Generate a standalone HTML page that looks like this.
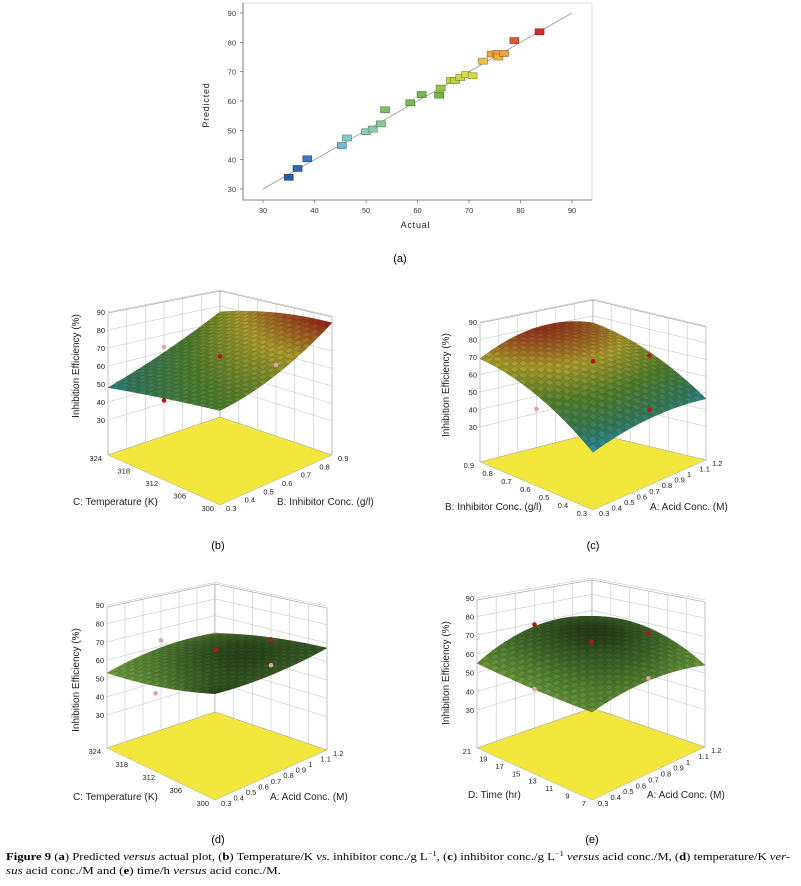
<!DOCTYPE html>
<html><head><meta charset="utf-8"><style>
body{margin:0;background:#fff}
svg{display:block;font-family:"Liberation Sans",Arial,sans-serif}
</style></head><body>
<svg id="fig" width="801" height="886" viewBox="0 0 801 886" xmlns="http://www.w3.org/2000/svg">
<g id="scatter"></g>
<g id="p3d"></g>
<text x="400" y="262" font-size="11" text-anchor="middle">(a)</text>
<text x="218" y="549" font-size="11" text-anchor="middle">(b)</text>
<text x="593" y="549" font-size="11" text-anchor="middle">(c)</text>
<text x="218" y="843" font-size="11" text-anchor="middle">(d)</text>
<text x="592" y="843" font-size="11" text-anchor="middle">(e)</text>
<g font-family="'Liberation Serif',serif" font-size="10.5">
<text x="6" y="860" textLength="784" lengthAdjust="spacingAndGlyphs"><tspan font-weight="bold">Figure 9</tspan> (<tspan font-weight="bold">a</tspan>) Predicted <tspan font-style="italic">versus</tspan> actual plot, (<tspan font-weight="bold">b</tspan>) Temperature/K <tspan font-style="italic">vs.</tspan> inhibitor conc./g L<tspan font-size="7" dy="-4">−1</tspan><tspan dy="4">, (</tspan><tspan font-weight="bold">c</tspan>) inhibitor conc./g L<tspan font-size="7" dy="-4">−1</tspan><tspan dy="4"> </tspan><tspan font-style="italic">versus</tspan> acid conc./M, (<tspan font-weight="bold">d</tspan>) temperature/K <tspan font-style="italic">ver-</tspan></text>
<text x="6" y="874" textLength="275" lengthAdjust="spacingAndGlyphs"><tspan font-style="italic">sus</tspan> acid conc./M and (<tspan font-weight="bold">e</tspan>) time/h <tspan font-style="italic">versus</tspan> acid conc./M.</text>
</g>
</svg>
<script>
const NS="http://www.w3.org/2000/svg";
// ---- scatter data ----
const actualVals=[35,36.7,38.6,45.3,46.3,50,51.3,52.9,53.7,58.6,60.8,64.2,64.5,66.5,67.3,68.3,69.4,70.7,72.7,74.4,75.5,75.7,76.8,78.8,83.7];
const predictedVals=[34,37,40.3,44.8,47.4,49.5,50.4,52.2,57,59.4,62.2,62,64.4,67,67,68,69,68.6,73.6,76,76.2,75,76.2,80.6,83.6];
const xTicks=[30,40,50,60,70,80,90];
const yTicks=[30,40,50,60,70,80,90];
// ---- surface data (z grid at u,v in {0,.5,1}; rows = v) ----
const zGridB=[[69,79,84],[57,67,69],[48,56,63]];
const zGridC=[[73,64,45],[78.5,69,48],[69,62,43]];
const zGridD=[[55,63,67.7],[57,68,66.6],[53,59.5,70]];
const zGridE=[[58.6,63,53.5],[64,67,59.4],[55,55,56.7]];
const dotsB=[[0.5,0.5,67,0],[0.1,0.6,35,0],[0,0.5,60,1],[0.5,0,50,1]];
const dotsC=[[0.5,0.5,70,0],[0.5,0,62,0],[1,0.5,53,0],[0,0.5,32,1]];
const dotsD=[[0.5,0.5,68,0],[0.5,0,62,0],[1,0.5,72,1],[0,0.5,61,1],[0,0.55,33,1]];
const dotsE=[[0.5,0.5,68,0],[0,0.5,65,0],[0.5,0,60,0],[0,0.5,30.5,1],[0.5,0,36,1]];
const zTicks=[30,40,50,60,70,80,90];
const ticksTemp=["324","318","312","306","300"];
const ticksInhLeft=["0.9","0.8","0.7","0.6","0.5","0.4","0.3"];
const ticksInhRight=["0.3","0.4","0.5","0.6","0.7","0.8","0.9"];
const ticksAcid=["0.3","0.4","0.5","0.6","0.7","0.8","0.9","1","1.1","1.2"];
const ticksTime=["21","19","17","15","13","11","9","7"];

function el(tag,attrs,parent){const e=document.createElementNS(NS,tag);for(const k in attrs)e.setAttribute(k,attrs[k]);parent.appendChild(e);return e;}

// ---- scatter ----
(function(){
 const g=document.getElementById('scatter');
 const x0=243,x1=592,yT=3,yB=200;
 const sx=v=>263+(v-30)*(572-263)/60, sy=v=>189-(v-30)*(176/60);
 let r=el('rect',{x:x0,y:yT,width:x1-x0,height:yB-yT,fill:'none',stroke:'#ddd','stroke-width':1},g);
 
 let a=el('path',{d:`M${x0},${yT}V${yB}H${x1}`,stroke:'#666',fill:'none','stroke-width':0.8},g);
 
 xTicks.forEach(t=>{
  const l=el('line',{x1:sx(t),x2:sx(t),y1:yB,y2:yB+3,stroke:'#666','stroke-width':0.7},g);
  
  const tx=el('text',{x:sx(t),y:yB+13,'font-size':7.5,'text-anchor':'middle',fill:'#333'},g);tx.textContent=t;
  
 });
 yTicks.forEach(t=>{
  const l=el('line',{x1:x0-3,x2:x0,y1:sy(t),y2:sy(t),stroke:'#666','stroke-width':0.7},g);
  
  const tx=el('text',{x:x0-7,y:sy(t)+3,'font-size':7.5,'text-anchor':'end',fill:'#333'},g);tx.textContent=t;
  
 });
 let xt=el('text',{x:(x0+x1)/2-2,y:228,'font-size':9,'text-anchor':'middle','letter-spacing':'0.8',fill:'#222'},g);xt.textContent='Actual';
 
 let yt=el('text',{x:0,y:0,'font-size':9,'text-anchor':'middle','letter-spacing':'0.8',fill:'#222',transform:'translate(209,105) rotate(-90)'},g);yt.textContent='Predicted';
 
 let ln=el('line',{x1:sx(30),y1:sy(30),x2:sx(90),y2:sy(90),stroke:'#999','stroke-width':0.8},g);
 
 const stops=[[34,[40,90,165]],[40,[50,120,190]],[46,[130,200,220]],[50,[140,205,170]],[56,[130,195,110]],[62,[115,180,70]],[67,[190,210,70]],[71,[245,225,80]],[76,[240,165,60]],[80,[225,100,50]],[84,[210,40,40]]];
 function col(v){if(v<=stops[0][0])return stops[0][1];for(let i=1;i<stops.length;i++){if(v<=stops[i][0]){const t=(v-stops[i-1][0])/(stops[i][0]-stops[i-1][0]);return stops[i-1][1].map((c,j)=>Math.round(c+(stops[i][1][j]-c)*t));}}return stops[stops.length-1][1];}
 actualVals.forEach((av,i)=>{
  const c=col(predictedVals[i]);
  const m=el('rect',{x:sx(av)-4.5,y:sy(predictedVals[i])-3,width:9,height:6,fill:`rgb(${c})`,stroke:`rgb(${c.map(v=>Math.round(v*0.6))})`,'stroke-width':0.6},g);
  
 });
})();

// ---- 3D panels ----
function lag(t){return[2*(t-.5)*(t-1),-4*t*(t-1),2*t*(t-.5)];}
function zAt(G,u,v){const a=lag(u),b=lag(v);let s=0;for(let i=0;i<3;i++)for(let j=0;j<3;j++)s+=b[i]*a[j]*G[i][j];return s;}
const palWarm=[[0,[40,150,200]],[0.25,[55,125,90]],[0.5,[85,130,45]],[0.75,[175,160,45]],[1,[150,35,25]]];
const palGreen=[[0,[125,175,70]],[0.5,[85,130,50]],[0.8,[52,88,34]],[1,[20,32,14]]];
function pal(p,t){t=Math.max(0,Math.min(1,t));for(let i=1;i<p.length;i++){if(t<=p[i][0]){const f=(t-p[i-1][0])/(p[i][0]-p[i-1][0]);return p[i-1][1].map((c,j)=>Math.round(c+(p[i][1][j]-c)*f));}}return p[p.length-1][1];}

function panel(cfg){
 const root=document.getElementById('p3d');
 const g=el('g',{},root);
 
 const {B,L,R,F,tops,k,o}=cfg;
 const floorP=(u,v)=>[(1-u)*(1-v)*B[0]+u*(1-v)*R[0]+(1-u)*v*L[0]+u*v*F[0],(1-u)*(1-v)*B[1]+u*(1-v)*R[1]+(1-u)*v*L[1]+u*v*F[1]];
 const proj=(u,v,z)=>{const p=floorP(u,v);return[p[0],p[1]-(o+(z-30)*k)];};
 const hL=L[1]-tops[1],hB=B[1]-tops[0],hR=R[1]-tops[2];
 const wall=(A,Ah,C,Ch,nm)=>{const w=el('path',{d:`M${A[0]},${A[1]}L${C[0]},${C[1]}L${C[0]},${C[1]-Ch}L${A[0]},${A[1]-Ah}Z`,fill:'#fff',stroke:'#999','stroke-width':0.6},g);};
 wall(L,hL,B,hB,'left-wall');wall(B,hB,R,hR,'right-wall');
 const gl=el('g',{stroke:'#bbb','stroke-width':0.5},g);
 for(let i=1;i<6;i++){const t=i/6;
  const a=[L[0]+(B[0]-L[0])*t,L[1]+(B[1]-L[1])*t],ah=hL+(hB-hL)*t;
  el('line',{x1:a[0],y1:a[1],x2:a[0],y2:a[1]-ah},gl);
  const b=[B[0]+(R[0]-B[0])*t,B[1]+(R[1]-B[1])*t],bh=hB+(hR-hB)*t;
  el('line',{x1:b[0],y1:b[1],x2:b[0],y2:b[1]-bh},gl);}
 const sB=hB/hL,sR=hR/hL;
 zTicks.forEach(z=>{const h=o+(z-30)*k;
  el('line',{x1:L[0],y1:L[1]-h,x2:B[0],y2:B[1]-h*sB},gl);
  el('line',{x1:B[0],y1:B[1]-h*sB,x2:R[0],y2:R[1]-h*sR},gl);
  const t=el('text',{x:L[0]-3,y:L[1]-h+3,'font-size':7.5,'text-anchor':'end',fill:'#222',stroke:'none'},g);t.textContent=z;
  });
 const fl=el('path',{d:`M${B}L${R}L${F}L${L}Z`,fill:'#f3e63c',stroke:'#aaa','stroke-width':0.5},g);
 
 const N=26,cells=[];
 for(let i=0;i<N;i++)for(let j=0;j<N;j++)cells.push([i,j]);
 cells.sort((a,b)=>(a[0]+a[1])-(b[0]+b[1]));
 const sg=el('g',{},g);
 cells.forEach(([i,j])=>{
  const u0=i/N,u1=(i+1)/N,v0=j/N,v1=(j+1)/N;
  const pts=[[u0,v0],[u1,v0],[u1,v1],[u0,v1]].map(([u,v])=>proj(u,v,zAt(cfg.G,u,v)));
  const zc=zAt(cfg.G,(u0+u1)/2,(v0+v1)/2);
  let c=pal(cfg.pal,(zc-cfg.zr[0])/(cfg.zr[1]-cfg.zr[0]));
  const sh=((i+j)%2?0.9:1);c=c.map(x=>Math.round(x*sh));
  el('path',{d:'M'+pts.map(p=>p[0].toFixed(1)+','+p[1].toFixed(1)).join('L')+'Z',fill:`rgb(${c})`,stroke:`rgb(${c.map(x=>Math.round(x*0.75))})`,'stroke-width':0.35},sg);
 });
 cfg.dots.forEach(d=>{const p=proj(d[0],d[1],d[2]);
  const c=el('circle',{cx:p[0],cy:p[1],r:2.3,fill:d[3]?'#e8a0a0':'#b01818'},g);
  });
 cfg.leftTicks.forEach((s,i)=>{const t=i/(cfg.leftTicks.length-1);
  const x=L[0]+(F[0]-L[0])*t-6,y=L[1]+(F[1]-L[1])*t+6;
  const tx=el('text',{x:x,y:y,'font-size':7.5,'text-anchor':'end',fill:'#222'},g);tx.textContent=s;
  });
 cfg.rightTicks.forEach((s,i)=>{const t=i/(cfg.rightTicks.length-1);
  const x=F[0]+(R[0]-F[0])*t+6,y=F[1]+(R[1]-F[1])*t+6;
  const tx=el('text',{x:x,y:y,'font-size':7.5,'text-anchor':'start',fill:'#222'},g);tx.textContent=s;
  });
 const t1=el('text',{x:cfg.lt[0],y:cfg.lt[1],'font-size':10,fill:'#222'},g);t1.textContent=cfg.leftTitle;
 
 const t2=el('text',{x:cfg.rt[0],y:cfg.rt[1],'font-size':10,fill:'#222'},g);t2.textContent=cfg.rightTitle;
 
 const t3=el('text',{x:0,y:0,'font-size':10,'text-anchor':'middle',fill:'#222',transform:`translate(${cfg.zt[0]},${cfg.zt[1]}) rotate(-90)`},g);t3.textContent='Inhibition Efficiency (%)';
 
}
panel({name:'surface-plot-b',B:[220,417],L:[108,455],R:[332,455],F:[220,505],tops:[291,313,317],k:1.8,o:35,G:zGridB,zr:[42,84],pal:palWarm,dots:dotsB,leftTicks:ticksTemp,rightTicks:ticksInhRight,leftTitle:'C: Temperature (K)',rightTitle:'B: Inhibitor Conc. (g/l)',lt:[73,505],rt:[277,505],zt:[79,366]});
panel({name:'surface-plot-c',B:[593,433],L:[480,462],R:[706,460],F:[593,510],tops:[300,323,327],k:1.75,o:35,G:zGridC,zr:[40,80],pal:palWarm,dots:dotsC,leftTicks:ticksInhLeft,rightTicks:ticksAcid,leftTitle:'B: Inhibitor Conc. (g/l)',rightTitle:'A: Acid Conc. (M)',lt:[445,510],rt:[650,510],zt:[449,385]});
panel({name:'surface-plot-d',B:[215,712],L:[107,748],R:[327,750],F:[215,800],tops:[584,607,608],k:1.83,o:33,G:zGridD,zr:[50,72],pal:palGreen,dots:dotsD,leftTicks:ticksTemp,rightTicks:ticksAcid,leftTitle:'C: Temperature (K)',rightTitle:'A: Acid Conc. (M)',lt:[73,800],rt:[270,800],zt:[79,680]});
panel({name:'surface-plot-e',B:[592,708],L:[477,748],R:[705,747],F:[592,800],tops:[580,600,602],k:1.87,o:38,G:zGridE,zr:[50,70],pal:palGreen,dots:dotsE,leftTicks:ticksTime,rightTicks:ticksAcid,leftTitle:'D: Time (hr)',rightTitle:'A: Acid Conc. (M)',lt:[468,798],rt:[647,798],zt:[449,673]});
</script>
</body></html>
